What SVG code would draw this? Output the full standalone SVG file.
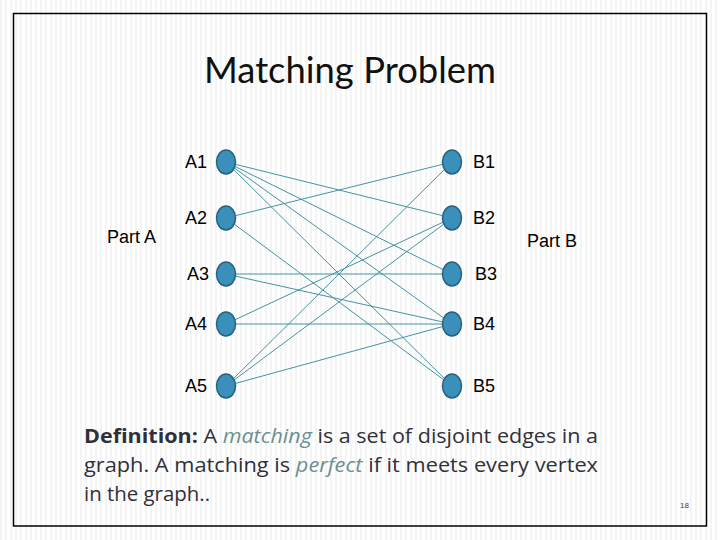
<svg xmlns="http://www.w3.org/2000/svg" width="720" height="540" viewBox="0 0 720 540">
  <defs>
    <pattern id="stripes" x="0" y="0" width="5" height="10" patternUnits="userSpaceOnUse">
      <rect x="0" y="0" width="5" height="10" fill="#ffffff"/>
      <rect x="0" y="0" width="2" height="10" fill="#f4f4f4"/>
    </pattern>
    <style>
      .node { fill: #3a8fbb; stroke: #25627f; stroke-width: 1.5; }
      .edge { stroke: #4593a3; stroke-width: 1; fill: none; }
      .lbl { font-family: "Liberation Sans", Arial, sans-serif; font-size: 18px; fill: #000; }
      .title { font-family: Lato, "Open Sans", sans-serif; font-size: 37px; fill: #111; }
      .def { font-family: "Open Sans", Lato, sans-serif; font-size: 20px; fill: #30303a; }
      .em { font-style: italic; fill: #6b8f90; }
    </style>
  </defs>
  <rect x="0" y="0" width="720" height="540" fill="url(#stripes)"/>
  <rect x="13.5" y="13.5" width="693" height="512.5" fill="none" stroke="#000" stroke-width="1.5"/>

  <text class="title" x="204" y="83" textLength="292" lengthAdjust="spacingAndGlyphs">Matching Problem</text>

  <g id="connectors">
    <line class="edge" x1="226" y1="162" x2="452" y2="218"/>
    <line class="edge" x1="226" y1="162" x2="452" y2="274"/>
    <line class="edge" x1="226" y1="162" x2="452" y2="324"/>
    <line class="edge" x1="226" y1="162" x2="452" y2="386"/>
    <line class="edge" x1="226" y1="218" x2="452" y2="162"/>
    <line class="edge" x1="226" y1="218" x2="452" y2="386"/>
    <line class="edge" x1="226" y1="274" x2="452" y2="274"/>
    <line class="edge" x1="226" y1="274" x2="452" y2="324"/>
    <line class="edge" x1="226" y1="324" x2="452" y2="218"/>
    <line class="edge" x1="226" y1="324" x2="452" y2="324"/>
    <line class="edge" x1="226" y1="386" x2="452" y2="162"/>
    <line class="edge" x1="226" y1="386" x2="452" y2="218"/>
    <line class="edge" x1="226" y1="386" x2="452" y2="324"/>
  </g>

  <g id="A1"><ellipse class="node" cx="226" cy="162" rx="9.5" ry="12"/><text class="lbl" x="185" y="168">A1</text></g>
  <g id="A2"><ellipse class="node" cx="226" cy="218" rx="9.5" ry="12"/><text class="lbl" x="185" y="224">A2</text></g>
  <g id="A3"><ellipse class="node" cx="226" cy="274" rx="9.5" ry="12"/><text class="lbl" x="187" y="280">A3</text></g>
  <g id="A4"><ellipse class="node" cx="226" cy="324" rx="9.5" ry="12"/><text class="lbl" x="185" y="330">A4</text></g>
  <g id="A5"><ellipse class="node" cx="226" cy="386" rx="9.5" ry="12"/><text class="lbl" x="185" y="392">A5</text></g>

  <g id="B1"><ellipse class="node" cx="452" cy="162" rx="9.5" ry="12"/><text class="lbl" x="473" y="168">B1</text></g>
  <g id="B2"><ellipse class="node" cx="452" cy="218" rx="9.5" ry="12"/><text class="lbl" x="473" y="224">B2</text></g>
  <g id="B3"><ellipse class="node" cx="452" cy="274" rx="9.5" ry="12"/><text class="lbl" x="475" y="280">B3</text></g>
  <g id="B4"><ellipse class="node" cx="452" cy="324" rx="9.5" ry="12"/><text class="lbl" x="473" y="330">B4</text></g>
  <g id="B5"><ellipse class="node" cx="452" cy="386" rx="9.5" ry="12"/><text class="lbl" x="473" y="392">B5</text></g>

  <g id="partA"><text class="lbl" x="107" y="243">Part A</text></g>
  <g id="partB"><text class="lbl" x="527" y="247">Part B</text></g>

  <text class="def" x="84" y="443" textLength="514" lengthAdjust="spacingAndGlyphs"><tspan font-weight="bold">Definition:</tspan> A <tspan class="em">matching</tspan> is a set of disjoint edges in a</text>
  <text class="def" x="84" y="472" textLength="514" lengthAdjust="spacingAndGlyphs">graph. A matching is <tspan class="em">perfect</tspan> if it meets every vertex</text>
  <text class="def" x="84" y="501" textLength="126" lengthAdjust="spacingAndGlyphs">in the graph..</text>

  <text x="680" y="508" font-family="'Liberation Sans', Arial, sans-serif" font-size="8" fill="#444">18</text>
</svg>
